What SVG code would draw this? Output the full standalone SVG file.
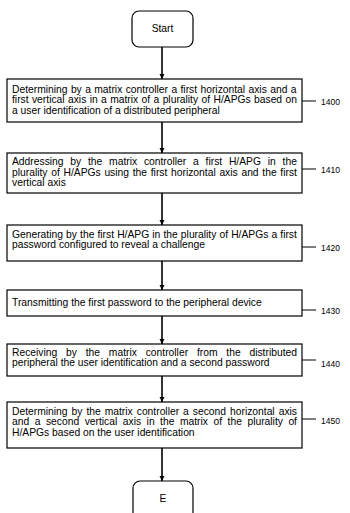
<svg xmlns="http://www.w3.org/2000/svg" width="350" height="513" viewBox="0 0 350 513">
<defs>
<marker id="ah" viewBox="0 0 10 10" refX="10" refY="5" markerWidth="5" markerHeight="6" orient="auto" markerUnits="userSpaceOnUse">
<path d="M0,0 L10,5 L0,10 z" fill="#000"/>
</marker>
<style>
.box{fill:#fff;stroke:#000;stroke-width:1.2}
.t{font-family:"Liberation Sans",Arial,sans-serif;font-size:10.3px;fill:#000}
.lbl{font-family:"Liberation Sans",Arial,sans-serif;font-size:8.5px;fill:#000}
.ln{stroke:#000;stroke-width:1;fill:none}
.ar{stroke:#000;stroke-width:1.6;fill:none;marker-end:url(#ah)}
</style>
</defs>
<rect width="350" height="513" fill="#fff"/>
<g id="connectors">
<line class="ar" x1="162" y1="47" x2="162" y2="79"/>
<line class="ar" x1="162" y1="122" x2="162" y2="153"/>
<line class="ar" x1="162" y1="193" x2="162" y2="225"/>
<line class="ar" x1="162" y1="261" x2="162" y2="290"/>
<line class="ar" x1="162" y1="316" x2="162" y2="344"/>
<line class="ar" x1="162" y1="376" x2="162" y2="402"/>
<line class="ar" x1="162" y1="448" x2="162" y2="481"/>
</g>
<g id="start">
<rect class="box" x="132" y="11" width="61" height="36" rx="7"/>
<text class="t" x="162.5" y="32" text-anchor="middle">Start</text>
</g>
<g id="n1400">
<rect class="box" x="7" y="79" width="295" height="43"/>
<text class="t" x="12" y="92.5" word-spacing="0.52">Determining by a matrix controller a first horizontal axis and a</text>
<text class="t" x="12" y="103" word-spacing="0.52">first vertical axis in a matrix of a plurality of H/APGs based on</text>
<text class="t" x="12" y="113.5">a user identification of a distributed peripheral</text>
<line class="ln" x1="302" y1="101" x2="316" y2="101"/>
<text class="lbl" x="321" y="105">1400</text>
</g>
<g id="n1410">
<rect class="box" x="7" y="153" width="295" height="40"/>
<text class="t" x="12" y="165" word-spacing="3.93">Addressing by the matrix controller a first H/APG in the</text>
<text class="t" x="12" y="175.5" word-spacing="0.85">plurality of H/APGs using the first horizontal axis and the first</text>
<text class="t" x="12" y="186">vertical axis</text>
<line class="ln" x1="302" y1="169" x2="316" y2="169"/>
<text class="lbl" x="321" y="173">1410</text>
</g>
<g id="n1420">
<rect class="box" x="7" y="225" width="295" height="36"/>
<text class="t" x="12" y="237.5" word-spacing="0.25">Generating by the first H/APG in the plurality of H/APGs a first</text>
<text class="t" x="12" y="248">password configured to reveal a challenge</text>
<line class="ln" x1="302" y1="247" x2="316" y2="247"/>
<text class="lbl" x="321" y="251">1420</text>
</g>
<g id="n1430">
<rect class="box" x="7" y="290" width="295" height="26"/>
<text class="t" x="12" y="306">Transmitting the first password to the peripheral device</text>
<line class="ln" x1="302" y1="310" x2="316" y2="310"/>
<text class="lbl" x="321" y="314">1430</text>
</g>
<g id="n1440">
<rect class="box" x="7" y="344" width="295" height="32"/>
<text class="t" x="12" y="355.5" word-spacing="5.96">Receiving by the matrix controller from the distributed</text>
<text class="t" x="12" y="366">peripheral the user identification and a second password</text>
<line class="ln" x1="302" y1="360" x2="316" y2="360"/>
<text class="lbl" x="321" y="367">1440</text>
</g>
<g id="n1450">
<rect class="box" x="7" y="402" width="295" height="46"/>
<text class="t" x="12" y="414.5" word-spacing="1.14">Determining by the matrix controller a second horizontal axis</text>
<text class="t" x="12" y="425" word-spacing="2.65">and a second vertical axis in the matrix of the plurality of</text>
<text class="t" x="12" y="435.5">H/APGs based on the user identification</text>
<line class="ln" x1="302" y1="419" x2="316" y2="419"/>
<text class="lbl" x="321" y="424">1450</text>
</g>
<g id="end">
<rect class="box" x="133" y="481" width="60" height="45" rx="7"/>
<text class="t" x="163" y="502" text-anchor="middle">E</text>
</g>
</svg>
